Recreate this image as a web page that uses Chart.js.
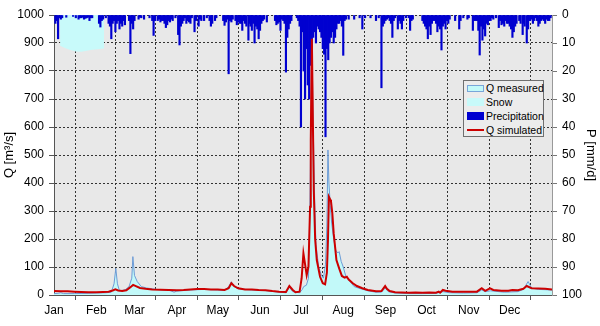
<!DOCTYPE html>
<html><head><meta charset="utf-8">
<script src="https://cdn.jsdelivr.net/npm/chart.js@4"></script>
<style>
html,body{margin:0;padding:0;background:#fff;}
#wrap{position:relative;width:600px;height:326px;}
#legend{position:absolute;left:463px;top:80px;width:81px;height:57px;border:1px solid #6f6f6f;background:#ececec;font:10.5px "Liberation Sans",Arial,sans-serif;color:#000;box-sizing:border-box;padding-top:0px}
.row{height:14px;line-height:14px;position:relative;padding-left:22px;white-space:nowrap}
.sw{position:absolute;left:3px;}
</style></head>
<body>
<div id="wrap">
<canvas id="c" width="600" height="326"></canvas>
<div id="legend">
 <div class="row"><span class="sw" style="top:4px;width:15px;height:5px;background:#c2f9f9;border:1px solid #79a6d9"></span>Q measured</div>
 <div class="row"><span class="sw" style="top:3px;width:17px;height:8px;background:#c8fafa"></span>Snow</div>
 <div class="row"><span class="sw" style="top:3px;width:17px;height:8px;background:#0000d0"></span>Precipitation</div>
 <div class="row"><span class="sw" style="top:6px;width:17px;height:2px;background:#cc0000"></span>Q simulated</div>
</div>
</div>
<script>
const monthLabels = ['Jan','Feb','Mar','Apr','May','Jun','Jul','Aug','Sep','Oct','Nov','Dec'];
const monthStartDays = [0,31,59,90,120,151,181,212,243,273,304,334];

const simDays = [0,5,10,15,20,25,31,36,40,43,45,47,50,53,56,58,60,63,67,72,78,84,90,95,100,105,110,115,120,125,128,130,132,135,140,145,150,155,160,165,170,172.5,175,177,180,181.5,182.8,184,185.2,186.5,187.7,188.2,189,189.8,190.4,191.4,192.6,195,197,198.7,200,200.8,201.5,202.5,203,204,205,206,207,209,211,213,214.6,216,219,222,226,230,236,240,242.7,244,246,250,255,260,265,270,275,280,282,283,285,287,292,298,305,310,313.5,316,319.6,322,328,333,336,340,344,346.5,350,355,360,365];
const simQ    = [14,13,13,12,11,10,10,11,12,16,20,16,14,17,28,36,32,25,22,20,19,18,17,18,20,21,21,20,20,18,24,42,32,24,20,20,18,17,14,12,11,32,18,10,12,60,149,110,71,101,315,554,915,600,375,200,125,65,42,38,80,196,350,340,335,292,220,173,125,95,68,62,65,55,42,32,24,18,13,14,32,22,14,10,9,8,9,8,9,8,12,8,18,15,12,12,12,12,24,15,24,18,15,15,18,17,22,32,24,23,22,20];

const measDays = [0,3,5,7,15,25,31,38,42,44,45.3,46.5,48,52,55,57,57.8,59,61,64,68,75,85,88,90,100,110,120,125,128,130,132,135,145,155,165,170,172.5,175,180,182,183,185,186.5,187.5,188.5,189.2,190,191,192,194,196,197.5,199,200,200.8,201.5,202.5,203.5,205,206.5,208,209,210.5,212,214,217,220,225,230,236,240,242.7,245,250,260,270,280,285,290,300,310,313.5,316,320,330,340,344,347.5,350,355,365];
const measQ    = [5,6,8,5,5,6,7,8,10,40,95,40,15,18,30,60,137,70,48,30,25,20,16,10,14,18,20,18,17,30,47,30,22,18,16,10,8,28,12,8,20,30,35,60,300,700,850,600,350,180,100,70,60,110,250,518,400,320,257,200,160,150,155,120,100,65,48,30,22,15,10,10,25,12,7,5,5,6,12,8,7,8,18,12,15,10,12,20,48,25,20,18];

const precipDays = [1,2,3,4,5,6,9,14,16,18,19,20,21,22,23,24,25,26,27,28,33,34,35,36,38,40,41,42,43,44,45,46,47,48,49,50,51,52,55,56,57,58,59,62,63,64,66,70,72,73,74,76,77,78,79,80,81,82,83,84,85,86,87,89,91,92,93,94,95,96,97,98,99,100,101,103,104,106,107,108,110,112,114,115,116,118,119,124,125,126,127,128,129,130,131,133,134,135,136,137,138,139,140,141,142.5,143.5,144,145,146,147,148,149,150,151,152,153,154,156,162,163,164,165,166,167,168,169,170,171,172,173,174,178,179,180,181,182,183,184,185,186,187,188,189,190,191,192,193,194,195,196,197,198,199,200,201,202,203,204,205,206,207,208,209,210,211,212,213,214,216,220,224,226,228,232,236,238,240,241,242,243,244,245,246,247,248,249,250,252,253,254,255,256,258,260,261,262,263,270,271,272,273,274,275,276,277,278,279,280,281,282,283,284,285,286,287,288,289,290,294,297,298,300,303,304,307,308,309,310,311,312,313,314,315,316,317,318,319,320,321,322,324,326,327,328,329,330,331,332,333,334,335,336,337,338,339,341,342,343.5,344,345,346.5,347.5,348,349,350,351,352,353,354,355,356,357,358,359,360,361,362,363,364];
const precipMM   = [3,2,8.5,1,1.5,1,0.8,0.5,1,1.5,1,1,0.8,1.5,1.2,1,0.8,2,1,1,3,4.3,2,1.5,1,3,4,8.5,3,2,6,3,2,5,3,4,2,3.5,2,13.8,3,5,2,1.5,0.8,1,1.5,1,2,7.3,2,2,1.5,2.5,2,2,3,4.5,3.5,2,2.5,1.5,2,1,7,10.7,4,3,2,1,3,2,2.5,3,1,6,2,4,1.5,2,2,1,2,4,3,2,1,2,3.7,2.5,1.5,21,2,2.5,1.5,2,3.5,2.5,3,3,5.5,2,3,4,9,3,4,5.5,3,10,4,5,8.5,5.5,3,2,1.5,2.5,2,3.5,3,2.5,5.5,1.5,2,3,20.4,8,5,3,2,1,2,4,40,6,20,30,12,25,30,18,15,8,6,10,4,5,6,8,12,14,43.5,12,16,10,8,6,10,8,5,3,3,2,4,14.4,2,1.5,1.5,1.5,1,5,1,1,2,1,26,4,3,2,1.5,1,2,3,8,2,1,5,2,3,5,2,1,1,5.5,2,1.5,2,3,4,5,8.5,4,7,3,2,2,3,6,4,5,12.5,4,3,5,2,3,1.5,2,5,2,1,1.5,1,5.5,2,2,2,5.5,14.3,4,9,5,7.5,3,3.5,2,2,1,1.5,1,4.5,2,3.5,3,4,2,3,3,4,5,8,6,4,3,2,3,7,3,4,10,5,2,2,1.5,3,2,1,2,4,3,2,1.5,2,3,1.5,2,2,1];

const snowDays = [4.4,4.5,8,12,16,20,24,28,32,36.6,36.7];
const snowMM   = [0,11,11.8,12.5,13,13.1,12.8,12.4,12.2,12,0];

const pts = (xs, ys) => xs.map((x, i) => ({x: x, y: ys[i]}));
const FONT = '"Liberation Sans", Arial, sans-serif';

const bgPlugin = {
  id: 'plotBg',
  beforeDraw(chart) {
    const {ctx, chartArea: a} = chart;
    ctx.save();
    ctx.fillStyle = '#e8e8e8';
    ctx.fillRect(a.left, a.top, a.right - a.left, a.bottom - a.top);
    ctx.restore();
  }
};

new Chart(document.getElementById('c'), {
  data: {
    datasets: [
      {type: 'line', label: 'Q simulated', data: pts(simDays, simQ), yAxisID: 'y', borderColor: '#cc0000', borderWidth: 2, pointRadius: 0, fill: false, tension: 0, order: 0},
      {type: 'bar', label: 'Precipitation', data: pts(precipDays, precipMM), yAxisID: 'y2', backgroundColor: '#0000d0', borderWidth: 0, barThickness: 1.5, order: 1},
      {type: 'line', label: 'Q measured', data: pts(measDays, measQ), yAxisID: 'y', borderColor: '#6d9bd6', borderWidth: 1, backgroundColor: '#c2f9f9', fill: 'origin', pointRadius: 0, tension: 0, order: 2},
      {type: 'line', label: 'Snow', data: pts(snowDays, snowMM), yAxisID: 'y2', borderWidth: 0, borderColor: 'rgba(0,0,0,0)', backgroundColor: '#c8fafa', fill: 'origin', pointRadius: 0, tension: 0, order: 3}
    ]
  },
  options: {
    responsive: false,
    animation: false,
    devicePixelRatio: 1,
    layout: {padding: {top: 15, left: 0, right: 0, bottom: 0}},
    plugins: {legend: {display: false}, tooltip: {enabled: false}},
    scales: {
      x: {
        type: 'linear', min: 0, max: 365, offset: false, position: 'bottom',
        afterBuildTicks: s => { s.ticks = monthStartDays.map(v => ({value: v})); },
        ticks: {callback: (v, i) => monthLabels[i], font: {size: 12, family: FONT}, color: '#000', maxRotation: 0, autoSkip: false, padding: 3},
        grid: {color: '#333', lineWidth: 1, tickLength: 5, tickColor: '#555'},
        border: {color: '#555', width: 1, dash: [2, 2]},
        afterFit: s => { s.height = 31; }
      },
      y: {
        position: 'left', min: 0, max: 1000,
        ticks: {stepSize: 100, callback: v => String(v), font: {size: 12, family: FONT}, color: '#000', padding: 5},
        grid: {color: '#333', lineWidth: 1, tickLength: 5, tickColor: '#555'},
        border: {color: '#555', width: 1, dash: [2, 2]},
        title: {display: true, text: 'Q [m³/s]', font: {size: 13, family: FONT}, color: '#000', padding: {top: 2, bottom: 0}},
        afterFit: s => { s.width = 54; }
      },
      y2: {
        position: 'right', min: 0, max: 100, reverse: true,
        ticks: {stepSize: 10, callback: v => String(v), font: {size: 12, family: FONT}, color: '#000', padding: 5},
        grid: {drawOnChartArea: false, tickLength: 5, tickColor: '#777'},
        border: {color: '#999', width: 1},
        title: {display: true, text: 'P [mm/d]', font: {size: 13, family: FONT}, color: '#000', padding: {top: 2, bottom: 0}},
        afterFit: s => { s.width = 48; }
      }
    }
  },
  plugins: [bgPlugin]
});
</script>
</body></html>
